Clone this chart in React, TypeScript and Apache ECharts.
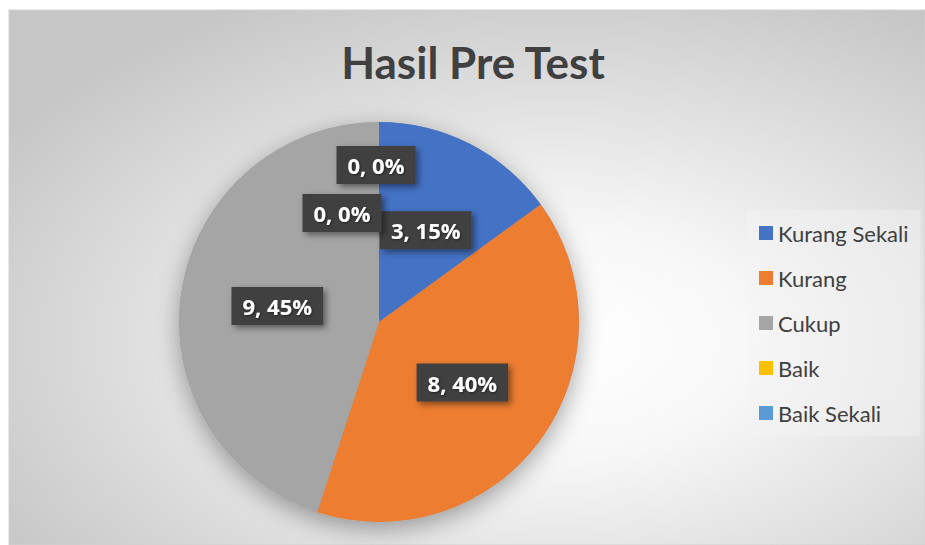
import React, { useEffect, useRef } from "react";
import * as echarts from "echarts";

const TITLE = "Hasil Pre Test";
const categories = ["Kurang Sekali", "Kurang", "Cukup", "Baik", "Baik Sekali"];
const values = [3, 8, 9, 0, 0];
const colors = ["#4472C4", "#ED7D31", "#A5A5A5", "#FFC000", "#5B9BD5"];
// manual label nudges (Excel moves the zero-slice labels apart)
const labelOffsets: [number, number][] = [[0, 0], [0, 0], [0, 0], [-3, -54], [-37, -6]];

export default function App() {
  const ref = useRef<HTMLDivElement>(null);
  useEffect(() => {
    document.body.style.margin = "0";
    if (!ref.current) return;
    const chart = echarts.init(ref.current, null, { renderer: "svg" });
    const total = values.reduce((a, b) => a + b, 0);
    chart.setOption({
      animation: false,
      backgroundColor: "#ffffff",
      graphic: [
        {
          type: "rect",
          z: -10,
          silent: true,
          shape: { x: 9, y: 10, width: 916, height: 535 },
          style: {
            fill: {
              type: "radial",
              x: 0.6,
              y: 0.62,
              r: 0.72,
              colorStops: [
                { offset: 0, color: "#ffffff" },
                { offset: 0.3, color: "#f7f7f7" },
                { offset: 1, color: "#c6c6c6" },
              ],
            },
            stroke: "#d0d0d0",
            lineWidth: 1,
          },
        },
      ],
      title: {
        text: TITLE,
        left: 468,
        textAlign: "center",
        top: 35,
        textStyle: {
          fontFamily: "Lato",
          fontWeight: "bold",
          fontSize: 44,
          color: "#404040",
        },
      },
      legend: {
        orient: "vertical",
        left: 747,
        top: 210,
        padding: [11, 12, 11, 12],
        backgroundColor: "rgba(245,245,245,0.45)",
        itemWidth: 14,
        itemHeight: 14,
        itemGap: 21,
        icon: "rect",
        data: categories,
        textStyle: {
          fontFamily: "Lato",
          fontSize: 22,
          lineHeight: 24,
          color: "#404040",
        },
      },
      series: [
        {
          type: "pie",
          silent: true,
          center: [379, 322],
          radius: 200,
          z: 1,
          label: { show: false },
          labelLine: { show: false },
          data: [{ value: 1, name: "__shadow" }],
          itemStyle: {
            color: "#a0a0a0",
            shadowBlur: 24,
            shadowOffsetY: 7,
            shadowColor: "rgba(0,0,0,0.35)",
          },
          legendHoverLink: false,
        },
        {
          type: "pie",
          center: [379, 322],
          radius: 200,
          startAngle: 90,
          clockwise: true,
          z: 2,
          avoidLabelOverlap: false,
          labelLayout: { hideOverlap: false },
          itemStyle: { borderWidth: 0 },
          labelLine: { show: false },
          label: {
            show: true,
            position: "inside",
            formatter: (p: any) =>
              `${p.value}, ${Math.round((p.value / total) * 100)}%`,
            fontFamily: "Open Sans",
            fontWeight: "bold",
            fontSize: 22,
            lineHeight: 22,
            color: "#ffffff",
            backgroundColor: "#3f3f3f",
            padding: [8, 11, 8, 11],
            shadowBlur: 6,
            shadowOffsetX: 3,
            shadowOffsetY: 3,
            shadowColor: "rgba(0,0,0,0.45)",
            textShadowColor: "rgba(0,0,0,0.5)",
            textShadowBlur: 2,
            textShadowOffsetX: 1,
            textShadowOffsetY: 1,
          },
          data: categories.map((name, i) => ({
            name,
            value: values[i],
            itemStyle: { color: colors[i] },
            label: { offset: labelOffsets[i] },
          })),
        },
      ],
    });
    return () => chart.dispose();
  }, []);
  return <div ref={ref} style={{ width: 925, height: 545 }} />;
}
